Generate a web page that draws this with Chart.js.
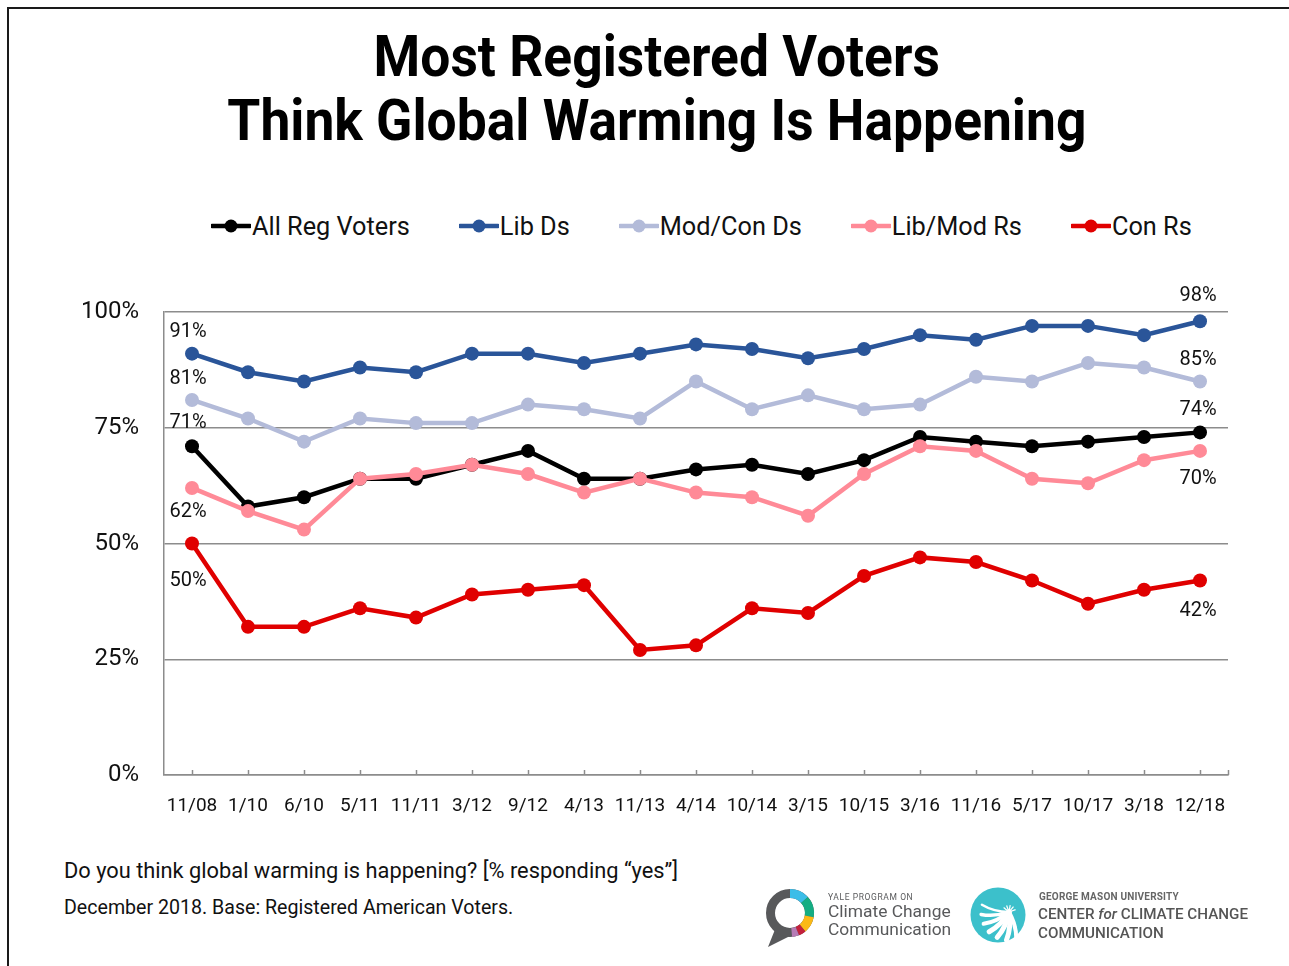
<!DOCTYPE html>
<html><head><meta charset="utf-8">
<script src="https://cdn.jsdelivr.net/npm/chart.js@4/dist/chart.umd.min.js"></script>
<style>
html,body{margin:0;padding:0;background:#fff;}
body{width:1289px;height:966px;position:relative;overflow:hidden;font-family:Roboto,"Noto Sans",sans-serif;color:#111;}
#frame{position:absolute;left:7px;top:7px;width:1300px;height:1000px;border:2px solid #1a1a1a;}
#title{position:absolute;left:0;top:24px;width:1314px;text-align:center;font-weight:700;font-size:58px;line-height:64px;color:#000;}
#title div span{display:inline-block;transform:scaleX(0.92);transform-origin:center;}
#legend{position:absolute;left:211px;top:210px;height:32px;display:flex;align-items:center;font-size:25.3px;color:#111;white-space:nowrap;}
.li{display:flex;align-items:center;margin-right:49px;}
.li svg{display:block;margin-right:1px;}
#wrap{position:absolute;left:0;top:270px;width:1289px;height:560px;}
#q1{position:absolute;left:64px;top:858px;font-size:21.8px;color:#111;}
#q2{position:absolute;left:64px;top:896px;font-size:19.6px;color:#111;}
.t{position:absolute;white-space:nowrap;color:#58595b;}
</style></head>
<body>
<div id="frame"></div>
<div id="title"><div><span>Most Registered Voters</span></div><div><span>Think Global Warming Is Happening</span></div></div>
<div id="legend"></div>
<div id="wrap"><canvas id="c" width="1289" height="560"></canvas></div>
<div id="q1">Do you think global warming is happening? [% responding “yes”]</div>
<div id="q2">December 2018. Base: Registered American Voters.</div>

<svg id="logos" style="position:absolute;left:0;top:0" width="1289" height="966"></svg>
<div class="t" style="left:828px;top:892px;font-size:8.5px;letter-spacing:0.6px;">YALE PROGRAM ON</div>
<div class="t" style="left:828px;top:902px;font-size:17.4px;line-height:18px;">Climate Change<br>Communication</div>
<div class="t" style="left:1039px;top:891px;font-size:10px;font-weight:700;letter-spacing:0.2px;color:#666;">GEORGE MASON UNIVERSITY</div>
<div class="t" style="left:1038px;top:905px;font-size:15.2px;line-height:19px;font-weight:500;color:#555;">CENTER <i>for</i> CLIMATE CHANGE<br>COMMUNICATION</div>

<script>
const categories = ['11/08','1/10','6/10','5/11','11/11','3/12','9/12','4/13','11/13','4/14','10/14','3/15','10/15','3/16','11/16','5/17','10/17','3/18','12/18'];
const allRegVoters = [71,58,60,64,64,67,70,64,64,66,67,65,68,73,72,71,72,73,74];
const libDs       = [91,87,85,88,87,91,91,89,91,93,92,90,92,95,94,97,97,95,98];
const modConDs    = [81,77,72,77,76,76,80,79,77,85,79,82,79,80,86,85,89,88,85];
const libModRs    = [62,57,53,64,65,67,65,61,64,61,60,56,65,71,70,64,63,68,70];
const conRs       = [50,32,32,36,34,39,40,41,27,28,36,35,43,47,46,42,37,40,42];
const seriesNames = ['All Reg Voters','Lib Ds','Mod/Con Ds','Lib/Mod Rs','Con Rs'];
const yTicks = [0,25,50,75,100];

const colors = ['#000000','#2a5599','#b3bbd9','#ff8a97','#e00000'];
const seriesData = [allRegVoters, libDs, modConDs, libModRs, conRs];
const drawOrder = [5,4,3,2,1];
const labelOffsets = [[-23,-22],[-22,-25],[-21,-21],[24,28],[37,30]];

const datasets = seriesData.map((d,i)=>({
  label: seriesNames[i], data: d, borderColor: colors[i], backgroundColor: colors[i],
  pointBackgroundColor: colors[i], pointBorderWidth: 0, pointRadius: 7, pointHoverRadius: 7,
  borderWidth: 4.5, tension: 0, order: drawOrder[i], endLabelOffsets: labelOffsets[i]
}));

// HTML legend
const lg = document.getElementById('legend');
datasets.forEach(ds=>{
  const it = document.createElement('div'); it.className='li';
  it.innerHTML = `<svg width="40" height="16"><line x1="1" y1="8" x2="39" y2="8" stroke="${ds.borderColor}" stroke-width="4.5" stroke-linecap="round"/><circle cx="20" cy="8" r="6.5" fill="${ds.borderColor}"/></svg><span>${ds.label}</span>`;
  lg.appendChild(it);
});

const gridGray = '#8c8c8c';
const tickPlugin = {
  id:'innerTicks',
  afterDraw(chart){
    const ctx = chart.ctx, xs = chart.scales.x, a = chart.chartArea;
    ctx.save(); ctx.strokeStyle = gridGray; ctx.lineWidth = 1.5;
    const xsPos = categories.map((_,i)=>xs.getPixelForValue(i)).concat([a.right]);
    xsPos.forEach(x=>{ ctx.beginPath(); ctx.moveTo(Math.round(x)+0.5, a.bottom); ctx.lineTo(Math.round(x)+0.5, a.bottom-5); ctx.stroke(); });
    ctx.restore();
  }
};
const labelPlugin = {
  id:'endLabels',
  afterDatasetsDraw(chart){
    const ctx = chart.ctx;
    ctx.save();
    ctx.font = '20px Roboto'; ctx.fillStyle = '#111'; ctx.textAlign='center'; ctx.textBaseline='middle';
    chart.data.datasets.forEach((ds,i)=>{
      const pts = chart.getDatasetMeta(i).data;
      const first = pts[0], last = pts[pts.length-1];
      ctx.fillText(ds.data[0]+'%', first.x-4, first.y+ds.endLabelOffsets[0]);
      ctx.fillText(ds.data[ds.data.length-1]+'%', last.x-2, last.y+ds.endLabelOffsets[1]);
    });
    ctx.restore();
  }
};

new Chart(document.getElementById('c'), {
  type:'line',
  data:{ labels: categories, datasets },
  options:{
    responsive:false, animation:false, devicePixelRatio:1,
    layout:{ padding:{ top:42, right:61, left:0, bottom:0 } },
    plugins:{ legend:{display:false}, tooltip:{enabled:false}, title:{display:false} },
    scales:{
      x:{ offset:true,
        grid:{ display:false },
        border:{ display:true, color:gridGray, width:1.5 },
        ticks:{ font:{family:'Roboto', size:19}, color:'#111', padding:12, maxRotation:0, autoSkip:false },
        afterFit(s){ s.height = 55; }
      },
      y:{ min:0, max:100,
        afterBuildTicks(s){ s.ticks = yTicks.map(v=>({value:v})); },
        ticks:{ callback:v=>v+'%', font:{family:'Roboto', size:24}, color:'#111', padding:25 },
        grid:{ color:gridGray, lineWidth:1.5, drawTicks:false },
        border:{ display:true, color:gridGray, width:1.5 },
        afterFit(s){ s.width = 164; }
      }
    }
  },
  plugins:[tickPlugin, labelPlugin]
});

// logos
const svg = document.getElementById('logos');
const NS='http://www.w3.org/2000/svg';
function el(tag, attrs){ const e=document.createElementNS(NS,tag); for(const k in attrs) e.setAttribute(k,attrs[k]); svg.appendChild(e); return e; }
const cx=790, cy=913, r=19.5;
function arcPath(a1,a2){
  const p=a=>[cx+r*Math.sin(a*Math.PI/180), cy-r*Math.cos(a*Math.PI/180)];
  const [x1,y1]=p(a1),[x2,y2]=p(a2);
  return `M${x1} ${y1} A${r} ${r} 0 ${(a2-a1)>180?1:0} 1 ${x2} ${y2}`;
}
el('path',{d:`M${cx-14} ${cy+14} L${cx-22} ${cy+34} L${cx+2} ${cy+22} Z`, fill:'#58595b'});
el('circle',{cx,cy,r,fill:'none',stroke:'#58595b','stroke-width':9});
[[0,48,'#3bbde8'],[48,100,'#14ad83'],[100,140,'#fbb917'],[140,158,'#c3203c'],[158,175,'#b67bb5']].forEach(([a,b,c])=>el('path',{d:arcPath(a,b),fill:'none',stroke:c,'stroke-width':9}));
// GMU
el('circle',{cx:998,cy:915,r:27.5,fill:'#3cc0cb'});
const sx=1009, sy=912;
[[165,2.5],[185,3.5],[205,4],[225,5],[245,5],[265,5],[285,4]].forEach(([ang,w])=>{
  const a=ang*Math.PI/180; const L=28;
  const mx = sx+L*0.55*Math.cos(a+0.25), my = sy-L*0.55*Math.sin(a+0.25);
  el('path',{d:`M${sx} ${sy} Q${mx} ${my} ${sx+L*Math.cos(a)} ${sy-L*Math.sin(a)}`,fill:'none',stroke:'#fff','stroke-width':w,'stroke-linecap':'round'});
});
[20,50,80,110,140].forEach(ang=>{const a=ang*Math.PI/180; el('line',{x1:sx,y1:sy,x2:sx+7*Math.cos(a),y2:sy-7*Math.sin(a),stroke:'#fff','stroke-width':1.2});});
</script>
</body></html>
